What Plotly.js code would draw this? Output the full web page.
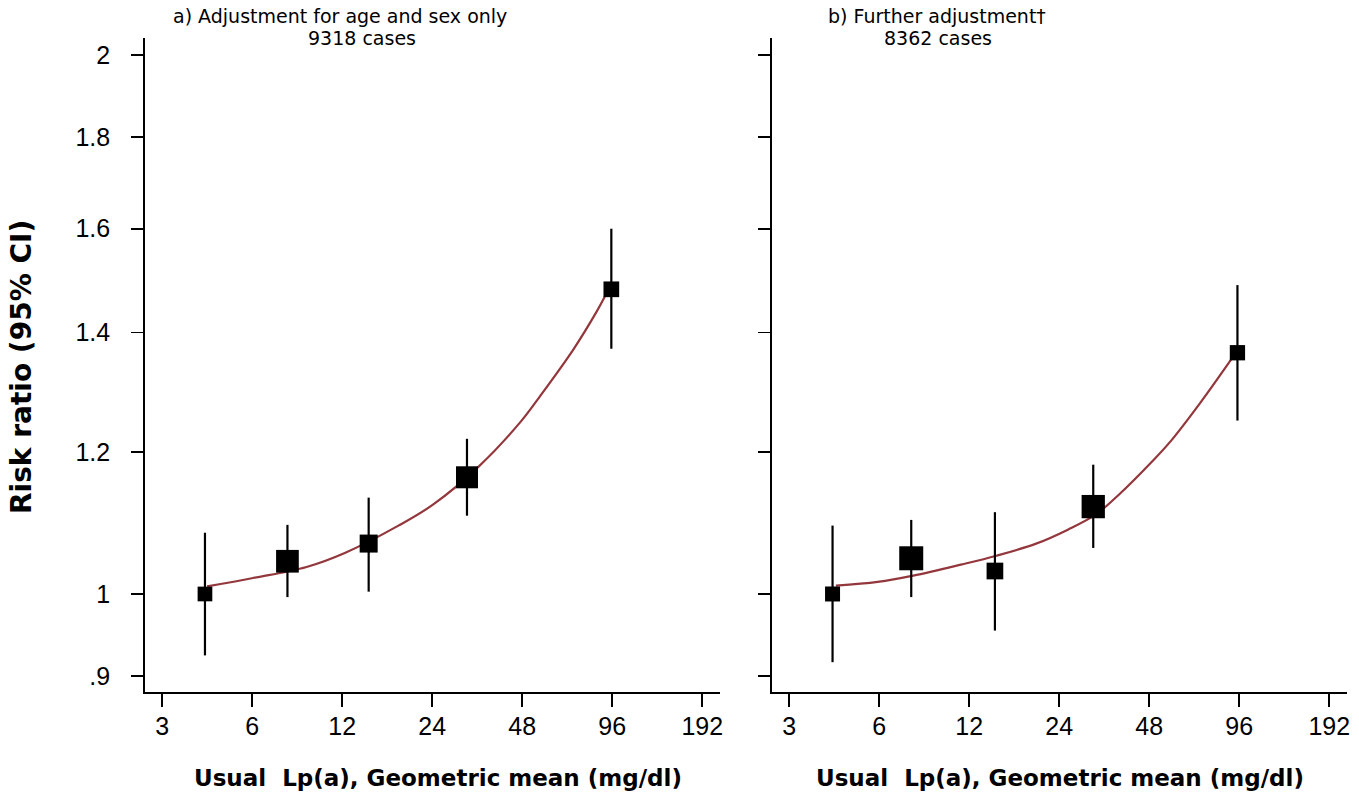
<!DOCTYPE html>
<html>
<head>
<meta charset="utf-8">
<script src="https://cdn.plot.ly/plotly-3.0.1.min.js"></script>
<style>html,body{margin:0;padding:0;background:#fff;}#chart{width:1359px;height:798px;}</style>
</head>
<body>
<div id="chart"></div>
<script>
// ---- Data ----
const xTickVals = [3, 6, 12, 24, 48, 96, 192];
const xTickText = ["3", "6", "12", "24", "48", "96", "192"];
const yTickVals = [0.9, 1, 1.2, 1.4, 1.6, 1.8, 2];
const yTickText = [".9", "1", "1.2", "1.4", "1.6", "1.8", "2"];

// Panel a: adjustment for age and sex only (9318 cases)
const lpA = [4.17, 7.87, 14.71, 31.36, 95.3];
const rrA = [1.000, 1.043, 1.067, 1.162, 1.480];
const loA = [0.924, 0.996, 1.003, 1.106, 1.371];
const hiA = [1.082, 1.093, 1.132, 1.221, 1.600];
const weightA = [14.7, 22.7, 18, 22, 15.7];
const curveXA = [4.24, 6.04, 9.12, 12.24, 18.5, 24.13, 34.37, 47.52, 55.0, 71.1, 85.1, 91.4];
const curveYA = [1.0098, 1.0208, 1.0354, 1.0542, 1.0919, 1.1218, 1.1785, 1.2487, 1.2896, 1.3695, 1.438, 1.470];

// Panel b: further adjustment (8362 cases)
const lpB = [4.19, 7.68, 14.63, 31.19, 94.68];
const rrB = [1.000, 1.047, 1.030, 1.119, 1.364];
const loB = [0.916, 0.996, 0.954, 1.061, 1.250];
const hiB = [1.092, 1.100, 1.111, 1.181, 1.488];
const weightB = [15, 24, 16.7, 23.3, 15.3];
const curveXB = [4.30, 5.93, 7.80, 11.25, 14.81, 20.09, 25.65, 31.75, 38.13, 48.8, 56.55, 71.3, 90.6];
const curveYB = [1.0107, 1.0156, 1.0238, 1.0384, 1.0505, 1.0669, 1.0863, 1.1074, 1.1369, 1.1847, 1.217, 1.2797, 1.3537];

// ---- Styling ----
const curveColor = '#93373c';
const tickFont = {family: 'Liberation Sans, Arial, sans-serif', size: 25, color: '#000'};

function curveTrace(x, y, xa, ya) {
  return {x: x, y: y, xaxis: xa, yaxis: ya, type: 'scatter', mode: 'lines',
    line: {color: curveColor, width: 2.2, shape: 'spline', smoothing: 1},
    hoverinfo: 'skip', showlegend: false};
}
function pointTrace(x, y, lo, hi, sz, xa, ya) {
  return {x: x, y: y, xaxis: xa, yaxis: ya, type: 'scatter', mode: 'markers',
    marker: {symbol: 'square', size: sz, color: '#000', opacity: 1, line: {width: 0}},
    error_y: {type: 'data', symmetric: false,
      array: hi.map((h, i) => h - y[i]),
      arrayminus: lo.map((l, i) => y[i] - l),
      color: '#000', thickness: 2.2, width: 0},
    showlegend: false};
}

const data = [
  curveTrace(curveXA, curveYA, 'x', 'y'),
  pointTrace(lpA, rrA, loA, hiA, weightA, 'x', 'y'),
  curveTrace(curveXB, curveYB, 'x2', 'y2'),
  pointTrace(lpB, rrB, loB, hiB, weightB, 'x2', 'y2')
];

const xRange = [Math.log10(2.628), Math.log10(220.1)];
const yRange = [Math.log10(0.8815), Math.log10(2.045)];

function xAxis(domain, anchor) {
  return {type: 'log', domain: domain, anchor: anchor, range: xRange,
    tickmode: 'array', tickvals: xTickVals, ticktext: xTickText,
    ticks: 'outside', ticklen: 13, tickwidth: 1.8, tickcolor: '#000',
    showline: true, linecolor: '#000', linewidth: 1.8,
    showgrid: false, zeroline: false, tickfont: tickFont, ticklabelstandoff: -2};
}
function yAxis(anchor, showLabels) {
  return {type: 'log', anchor: anchor, domain: [0, 1], range: yRange,
    tickmode: 'array', tickvals: yTickVals, ticktext: yTickText,
    showticklabels: showLabels,
    ticks: 'outside', ticklen: 12, tickwidth: 1.8, tickcolor: '#000',
    showline: true, linecolor: '#000', linewidth: 1.8,
    showgrid: false, zeroline: false, tickfont: tickFont, ticklabelstandoff: 16};
}

const titleFont = {family: 'DejaVu Sans, Verdana, sans-serif', size: 19, color: '#000'};
const boldFont = {family: 'DejaVu Sans, Verdana, sans-serif', size: 23, color: '#000', weight: 'bold'};

const layout = {
  width: 1359, height: 798,
  margin: {l: 145, r: 12, t: 38, b: 106},
  paper_bgcolor: '#fff', plot_bgcolor: '#fff',
  showlegend: false,
  xaxis: xAxis([0, 0.4784], 'y'),
  yaxis: yAxis('x', true),
  xaxis2: xAxis([0.5216, 1], 'y2'),
  yaxis2: yAxis('x2', false),
  annotations: [
    {text: 'a) Adjustment for age and sex only', xref: 'paper', yref: 'paper', x: 0.1626, y: 1.0336, xanchor: 'center', yanchor: 'middle', showarrow: false, font: titleFont},
    {text: '9318 cases', xref: 'paper', yref: 'paper', x: 0.1802, y: 1.0007, xanchor: 'center', yanchor: 'middle', showarrow: false, font: titleFont},
    {text: 'b) Further adjustment\u2020', xref: 'paper', yref: 'paper', x: 0.6592, y: 1.0336, xanchor: 'center', yanchor: 'middle', showarrow: false, font: titleFont},
    {text: '8362 cases', xref: 'paper', yref: 'paper', x: 0.6594, y: 1.0007, xanchor: 'center', yanchor: 'middle', showarrow: false, font: titleFont},
    {text: 'Risk ratio (95% CI)', xref: 'paper', yref: 'paper', x: -0.1023, y: 0.497, xanchor: 'center', yanchor: 'middle', textangle: -90, showarrow: false, font: Object.assign({}, boldFont, {size: 28})},
    {text: 'Usual\u00a0 Lp(a), Geometric mean (mg/dl)', xref: 'paper', yref: 'paper', x: 0.2438, y: -0.1315, xanchor: 'center', yanchor: 'middle', showarrow: false, font: boldFont},
    {text: 'Usual\u00a0 Lp(a), Geometric mean (mg/dl)', xref: 'paper', yref: 'paper', x: 0.7612, y: -0.1315, xanchor: 'center', yanchor: 'middle', showarrow: false, font: boldFont}
  ]
};

Plotly.newPlot('chart', data, layout, {displayModeBar: false, staticPlot: true});
</script>
</body>
</html>
